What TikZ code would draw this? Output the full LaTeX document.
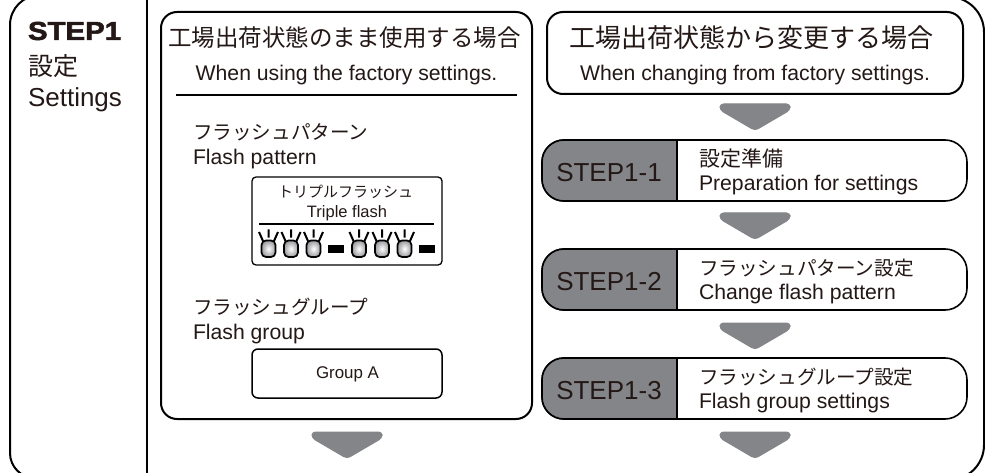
\documentclass[tikz,border=0pt]{standalone}
\usepackage{fontspec}
\usepackage{graphicx}
\setmainfont{Liberation Sans}
\newfontfamily\jp{Noto Sans CJK JP}
\newfontfamily\heavy[BoldFeatures={FakeBold=2}]{Liberation Sans}
\definecolor{ink}{HTML}{231815}
\definecolor{stepgray}{HTML}{848589}
\tikzset{
  x=1pt,y=-1pt,
  frameline/.style={draw=black,line width=2pt},
  txt/.style={inner sep=0pt,outer sep=0pt,text=ink,anchor=west,align=left},
  ctr/.style={inner sep=0pt,outer sep=0pt,text=ink,anchor=center,align=center},
  downarrow/.style={fill=stepgray,draw=stepgray,line width=1pt,line join=round,rounded corners=3.5pt},
  en/.style={font=\fontsize{21.2}{23}\selectfont},
  ja/.style={font=\fontsize{19.6}{22}\selectfont\jp},
}
\newcommand{\flowarrow}[2]{\fill[downarrow] (#1-35,#2) -- (#1+35,#2) -- (#1+35,#2+6) -- (#1,#2+26.5) -- (#1-35,#2+6) -- cycle;}
\newcommand{\lamp}[1]{%
  \shade[inner color=white,outer color=stepgray!80,draw=black,line width=1.7pt,rounded corners=4.5pt] (#1-7,240.5) rectangle (#1+7,257);
  \draw[black,line width=2pt] (#1,229.5)--(#1,237.5) (#1-9.5,232)--(#1-5.5,241) (#1+9.5,232)--(#1+5.5,241);
}
\newcommand{\stepbar}[5]{%
  \draw[frameline,line width=1.6pt,rounded corners=22pt,fill=white] (542,#1) rectangle (967,#1+61);
  \begin{scope}
    \clip[rounded corners=22pt] (542,#1) rectangle (967,#1+61);
    \fill[stepgray] (542,#1) rectangle (677,#1+61);
  \end{scope}
  \draw[black,line width=1.6pt,rounded corners=22pt] (677,#1) -- (542,#1) -- (542,#1+61) -- (677,#1+61);
  \draw[black,line width=1.2pt] (677,#1) -- (677,#1+61);
  \node[ctr,font=\fontsize{26}{28}\selectfont] (#2) at (609,#1+33) {#3};
  \node[txt,ja] (#2j) at (699,#1+19) {#4};
  \node[txt,en] (#2e) at (699,#1+45.5) {#5};
}
\begin{document}
\begin{tikzpicture}
\useasboundingbox (0,0) rectangle (985,473);
\fill[white] (0,0) rectangle (985,473);
\begin{scope}
\clip (0,0) rectangle (985,473);
\draw[frameline] (10,200) [rounded corners=30pt] -- (10,-5) [rounded corners=35pt] -- (984,-3) -- (984,480) [rounded corners=25pt] -- (10,478) [sharp corners] -- cycle;
\draw[frameline] (147,-5) -- (147,480);
\end{scope}
\node[txt,font=\fontsize{26}{28}\selectfont\heavy\bfseries] (s1) at (28,31) {\scalebox{1.13}[1]{STEP1}};
\node[txt,font=\fontsize{25}{28}\selectfont\jp] (s1j) at (28,66) {設定};
\node[txt,font=\fontsize{26}{28}\selectfont] (s1e) at (28,100) {Settings};
% left panel
\draw[frameline,rounded corners=16pt] (161,12) rectangle (532,419);
\node[ctr,font=\fontsize{23.5}{26}\selectfont\jp] (lt) at (344.5,38) {工場出荷状態のまま使用する場合};
\node[ctr,en] (le) at (346.5,75) {When using the factory settings.};
\draw[frameline] (176,95) -- (517,95);
\node[txt,ja] (fpj) at (193,132) {フラッシュパターン};
\node[txt,en] (fpe) at (193,159.5) {Flash pattern};
\draw[black,line width=1.3pt,rounded corners=4pt] (252,177) rectangle (442,265);
\node[ctr,font=\fontsize{15}{17}\selectfont\jp] (tfj) at (345.5,191.5) {トリプルフラッシュ};
\node[ctr,font=\fontsize{16.5}{18}\selectfont] (tfe) at (347,213) {Triple flash};
\draw[black,line width=1.5pt] (259,224) -- (434,224);
\lamp{268.5}\lamp{291}\lamp{313.5}\lamp{359}\lamp{382}\lamp{404.5}
\fill[black] (328,245) rectangle (344,253);
\fill[black] (419,245) rectangle (435,253);
\node[txt,ja] (fgj) at (193,307) {フラッシュグループ};
\node[txt,en] (fge) at (193,334.5) {Flash group};
\draw[black,line width=1.5pt,rounded corners=6pt] (252,349) rectangle (442,398);
\node[ctr,font=\fontsize{16.9}{19}\selectfont] (ga) at (347.5,374.5) {Group A};
\flowarrow{347}{432}
% right panel
\draw[frameline,rounded corners=16pt] (547,12) rectangle (963,94);
\node[ctr,font=\fontsize{26}{28}\selectfont\jp] (rt) at (751.5,38) {工場出荷状態から変更する場合};
\node[ctr,en] (re) at (755,75) {When changing from factory settings.};
\flowarrow{755}{104}
\stepbar{140}{a}{STEP1-1}{{\fontsize{21}{22}\selectfont 設定準備}}{Preparation for settings}
\flowarrow{755}{213}
\stepbar{249}{b}{STEP1-2}{フラッシュパターン設定}{Change flash pattern}
\flowarrow{755}{323}
\stepbar{358}{c}{STEP1-3}{フラッシュグループ設定}{Flash group settings}
\flowarrow{755}{432}
\end{tikzpicture}
\end{document}
